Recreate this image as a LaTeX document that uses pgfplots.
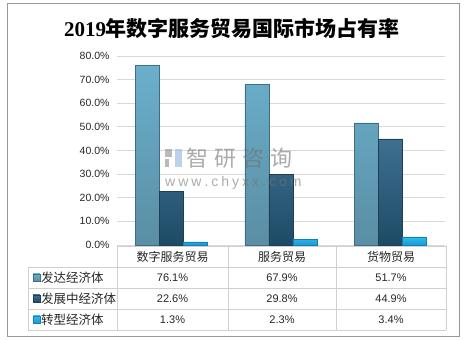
\documentclass[border=0pt]{standalone}
\usepackage{pgfplots}
\pgfplotsset{compat=1.18}
\usepackage{pgfplotstable}
\usepackage{fontspec}
\setmainfont{Liberation Sans}
\newfontfamily\cjk{Noto Sans CJK SC}
\newfontfamily\serifdigits{Liberation Serif}
\definecolor{sAtop}{HTML}{6BAFCC}
\definecolor{sAbot}{HTML}{5A8EA4}
\definecolor{sAedge}{HTML}{3E6E85}
\definecolor{sBtop}{HTML}{3F7090}
\definecolor{sBbot}{HTML}{1C4B66}
\definecolor{sBedge}{HTML}{1E3F55}
\definecolor{sCtop}{HTML}{2FBBF0}
\definecolor{sCbot}{HTML}{1A9BD6}
\definecolor{sCedge}{HTML}{1580B0}
\definecolor{gridc}{HTML}{D9D9D9}
\definecolor{tabc}{HTML}{D0D0D0}
\definecolor{wmblue}{HTML}{8FB4E0}
\pgfplotstableread{
x developed developing transition
0 76.1 22.6 1.3
1 67.9 29.8 2.3
2 51.7 44.9 3.4
}\datatable
\begin{document}
\begin{tikzpicture}
\path (0pt,0pt) rectangle (467pt,340pt);
\begin{axis}[
  at={(117pt,95pt)}, anchor=south west,
  scale only axis, width=328pt, height=189pt,
  xmin=-0.5, xmax=2.5, ymin=0, ymax=80,
  xtick=\empty,
  ytick={0,10,...,80},
  yticklabel={\pgfmathprintnumber[fixed,fixed zerofill,precision=1]{\tick}\%},
  /pgf/number format/assume math mode=true,
  yticklabel style={font=\fontsize{10.5}{10.5}\selectfont, text=black!85, xshift=-4pt},
  ymajorgrids, grid style={gridc, line width=0.8pt},
  axis line style={draw=none},
  major tick length=0pt,
  ybar=0pt, bar width=24pt,
  clip=false,
]
\addplot[draw=sAedge, top color=sAtop, bottom color=sAbot, line width=0.6pt] table[x=x, y=developed] {\datatable};
\addplot[draw=sBedge, top color=sBtop, bottom color=sBbot, line width=0.6pt] table[x=x, y=developing] {\datatable};
\addplot[draw=sCedge, top color=sCtop, bottom color=sCbot, line width=0.6pt] table[x=x, y=transition] {\datatable};
\end{axis}
\begin{scope}[x=1pt,y=1pt]
\draw[color=black!40, line width=0.8pt] (7,3.5) rectangle (459,337);
% title
\node[anchor=center] at (232,312) {\fontsize{21}{21}\selectfont\bfseries{\serifdigits 2019}{\cjk 年数字服务贸易国际市场占有率}};
% watermark
\begin{scope}[opacity=0.6]
\fill[black!45] (165,183) rectangle (172,191);
\fill[black!45] (165,173) rectangle (169,181);
\fill[wmblue] (175,173) rectangle (182,191);
\node[anchor=west, text=black!55, inner sep=0] at (186,182) {\fontsize{22}{22}\selectfont\cjk 智\hspace{6pt}研\hspace{6pt}咨\hspace{6pt}询};
\node[anchor=west, text=black!55, inner sep=0] at (165,157) {\fontsize{14}{14}\selectfont w\hspace{3pt}w\hspace{3pt}w\hspace{3pt}.\hspace{3pt}c\hspace{3pt}h\hspace{3pt}y\hspace{3pt}x\hspace{3pt}x\hspace{3pt}.\hspace{3pt}c\hspace{3pt}o\hspace{3pt}m};
\end{scope}
% table
\draw[tabc, line width=0.8pt] (117,94) -- (446,94);
\draw[tabc, line width=0.8pt] (28,73) -- (446,73);
\draw[tabc, line width=0.8pt] (28,52) -- (446,52);
\draw[tabc, line width=0.8pt] (28,31) -- (446,31);
\draw[tabc, line width=0.8pt] (28,9.5) -- (446,9.5);
\draw[tabc, line width=0.8pt] (28,73) -- (28,9.5);
\foreach \xx in {117,228,336,446} {\draw[tabc, line width=0.8pt] (\xx,94) -- (\xx,9.5);}
\begin{scope}[every node/.style={text=black!85}]
\node at (172.5,83.5) {\fontsize{12}{12}\selectfont\cjk 数字服务贸易};
\node at (282,83.5) {\fontsize{12}{12}\selectfont\cjk 服务贸易};
\node at (391,83.5) {\fontsize{12}{12}\selectfont\cjk 货物贸易};
\fill[top color=sAtop, bottom color=sAbot, draw=sAedge] (33,59) rectangle (40,66);
\fill[top color=sBtop, bottom color=sBbot, draw=sBedge] (33,38) rectangle (40,45);
\fill[top color=sCtop, bottom color=sCbot, draw=sCedge] (33,17) rectangle (40,24);
\node[anchor=west, inner sep=0] at (41,62.5) {\fontsize{12.5}{12.5}\selectfont\cjk 发达经济体};
\node[anchor=west, inner sep=0] at (41,41.5) {\fontsize{12.5}{12.5}\selectfont\cjk 发展中经济体};
\node[anchor=west, inner sep=0] at (41,20.5) {\fontsize{12.5}{12.5}\selectfont\cjk 转型经济体};
\node at (172.5,62.5) {\fontsize{11}{11}\selectfont 76.1\%};
\node at (282,62.5) {\fontsize{11}{11}\selectfont 67.9\%};
\node at (391,62.5) {\fontsize{11}{11}\selectfont 51.7\%};
\node at (172.5,41.5) {\fontsize{11}{11}\selectfont 22.6\%};
\node at (282,41.5) {\fontsize{11}{11}\selectfont 29.8\%};
\node at (391,41.5) {\fontsize{11}{11}\selectfont 44.9\%};
\node at (172.5,20.5) {\fontsize{11}{11}\selectfont 1.3\%};
\node at (282,20.5) {\fontsize{11}{11}\selectfont 2.3\%};
\node at (391,20.5) {\fontsize{11}{11}\selectfont 3.4\%};
\end{scope}
\end{scope}
\end{tikzpicture}
\end{document}
